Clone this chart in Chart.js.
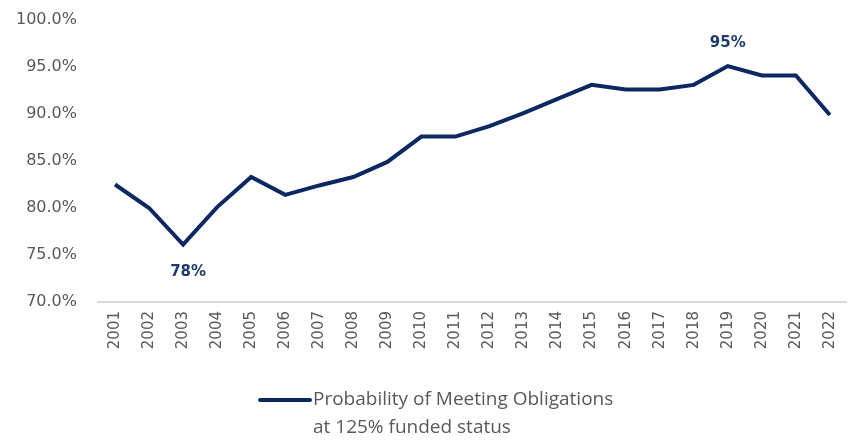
<!DOCTYPE html>
<html>
<head>
<meta charset="utf-8">
<script src="https://cdn.jsdelivr.net/npm/chart.js@4"></script>
<style>
  html, body { margin: 0; padding: 0; background: #fff; }
  #wrap { width: 857px; height: 440px; position: relative; }
</style>
</head>
<body>
<div id="wrap"><canvas id="chart"></canvas></div>
<script>
const years = ['2001', '2002', '2003', '2004', '2005', '2006', '2007', '2008', '2009', '2010', '2011',
  '2012', '2013', '2014', '2015', '2016', '2017', '2018', '2019', '2020', '2021', '2022'];
const probability = [82.5, 80.0, 76.1, 80.1, 83.3, 81.4, 82.4, 83.3, 84.9, 87.6, 87.6,
  88.7, 90.1, 91.6, 93.1, 92.6, 92.6, 93.1, 95.1, 94.1, 94.1, 89.9];
const callouts = [
  { index: 2, text: '78%', below: true },
  { index: 18, text: '95%', below: false },
];
const legendLines = ['Probability of Meeting Obligations', 'at 125% funded status'];

const navy = '#0b2862';
const gray = '#595959';
const tickFont = '"DejaVu Sans", Verdana, sans-serif';
const legendFont = '"Open Sans", "Liberation Sans", sans-serif';

const calloutPlugin = {
  id: 'callouts',
  afterDatasetsDraw(chart) {
    const ctx = chart.ctx;
    const x = chart.scales.x;
    const y = chart.scales.y;
    ctx.save();
    ctx.fillStyle = '#1f3b6b';
    ctx.font = 'bold 15px ' + tickFont;
    ctx.textAlign = 'center';
    ctx.textBaseline = 'middle';
    callouts.forEach((c) => {
      const px = x.getPixelForValue(c.index);
      const py = y.getPixelForValue(probability[c.index]);
      ctx.fillText(c.text, px + (c.below ? 5 : 0), py + (c.below ? 27 : -23));
    });
    ctx.restore();
  },
};

const legendPlugin = {
  id: 'sideLegend',
  afterDraw(chart) {
    const ctx = chart.ctx;
    ctx.save();
    ctx.strokeStyle = navy;
    ctx.lineWidth = 4;
    ctx.lineCap = 'round';
    ctx.beginPath();
    ctx.moveTo(260, 400);
    ctx.lineTo(310, 400);
    ctx.stroke();
    ctx.fillStyle = gray;
    ctx.font = '19px ' + legendFont;
    ctx.textAlign = 'left';
    ctx.textBaseline = 'middle';
    legendLines.forEach((t, i) => ctx.fillText(t, 313, 400 + i * 28));
    ctx.restore();
  },
};

new Chart(document.getElementById('chart'), {
  type: 'line',
  data: {
    labels: years,
    datasets: [
      {
        label: legendLines.join(' '),
        data: probability,
        borderColor: navy,
        borderWidth: 4,
        pointRadius: 0,
        tension: 0,
        fill: false,
      },
    ],
  },
  options: {
    responsive: true,
    maintainAspectRatio: false,
    animation: false,
    layout: { padding: { top: 20, right: 5, bottom: 88, left: 0 } },
    plugins: {
      legend: { display: false },
      tooltip: { enabled: false },
    },
    scales: {
      x: {
        offset: true,
        grid: { display: false, drawTicks: false },
        border: { display: true, color: '#d9d9d9', width: 2 },
        ticks: {
          color: gray,
          font: { family: tickFont, size: 15 },
          minRotation: 90,
          maxRotation: 90,
          padding: 9,
          autoSkip: false,
        },
        afterFit: (s) => { s.height = 50; },
      },
      y: {
        min: 70,
        max: 100,
        grid: { display: false, drawTicks: false },
        border: { display: false },
        ticks: {
          stepSize: 5,
          color: gray,
          font: { family: tickFont, size: 16 },
          padding: 21,
          callback: (v) => v.toFixed(1) + '%',
        },
        afterFit: (s) => {
          s.width = 98;
          s.paddingTop = 0;
          s.paddingBottom = 0;
        },
      },
    },
  },
  plugins: [calloutPlugin, legendPlugin],
});
</script>
</body>
</html>
